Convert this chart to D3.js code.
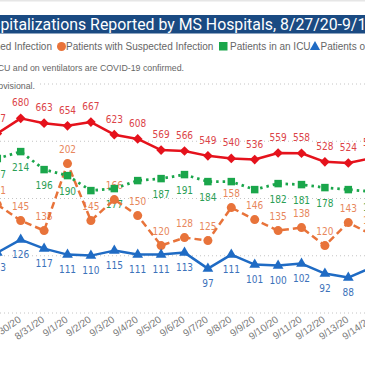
<!DOCTYPE html>
<html>
<head>
<meta charset="utf-8">
<script src="https://cdn.jsdelivr.net/npm/d3@7"></script>
<style>
  body { margin: 0; background: #fff; overflow: hidden; }
  svg { display: block; }
</style>
</head>
<body>
<div id="chart"></div>
<script>
// data (visible window: 8/29 .. 9/14)
var dates = ["8/29/20", "8/30/20", "8/31/20", "9/1/20", "9/2/20", "9/3/20", "9/4/20", "9/5/20", "9/6/20",
    "9/7/20", "9/8/20", "9/9/20", "9/10/20", "9/11/20", "9/12/20", "9/13/20", "9/14/20"];
var confirmed = [627, 680, 663, 654, 667, 623, 608, 569, 566, 549, 540, 536, 559, 558, 528, 524, 541];
var suspected = [161, 145, 135, 202, 145, 166, 150, 120, 128, 125, 158, 146, 135, 138, 120, 143, 131];
var icu = [207, 214, 196, 190, 175, 177, 185, 187, 191, 184, 184, 176, 182, 181, 178, 176, 174];
var vent = [113, 126, 117, 111, 110, 115, 111, 111, 113, 97, 111, 101, 100, 102, 92, 88, 98];
var gridTicks = [0, 200, 400, 600, 800];

var titleText = "COVID-19 Hospitalizations Reported by MS Hospitals, 8/27/20-9/14/20";
var legendNames = ["Patients with Confirmed Infection", "Patients with Suspected Infection",
    "Patients in an ICU", "Patients on Ventilators"];
var noteLines = ["Note: Patients in an ICU and on ventilators are COVID-19 confirmed.",
    "Data for the most recent days are provisional."];

var width = 365;
var height = 365;

var svg = d3.select("#chart").append("svg")
    .attr("width", width)
    .attr("height", height);

// x positions follow the cropped view
var x = d3.scalePoint()
    .domain(dates)
    .range([-2.7, 371.7]);

// confirmed series sits on its own axis, the other three share a second one
var y = d3.scaleLinear()
    .domain([0, 800])
    .range([313, 84]);
var y2 = d3.scaleLinear()
    .domain([50, 280])
    .range([315.6, 85.6]);

var labelFont = "'Liberation Sans Narrow', 'DejaVu Sans Condensed', 'Liberation Sans', sans-serif";
var textFont = "'Liberation Sans', Arial, sans-serif";
var titleFont = "Roboto, 'Liberation Sans', sans-serif";

// top border + title band
svg.append("rect").attr("x", 0).attr("y", 0).attr("width", width).attr("height", 1.5).attr("fill", "#e6e6e6");
svg.append("rect").attr("x", 0).attr("y", 15).attr("width", width).attr("height", 18.5).attr("fill", "#1a4a82");

// measure a string at 14px with a throwaway text node
function measure(str) {
    var t = svg.append("text")
        .style("font-family", titleFont)
        .style("font-size", "14px")
        .text(str);
    var w = t.node().getComputedTextLength();
    t.remove();
    return w;
}
var visStart = titleText.indexOf("pitalizations");
var visEnd = titleText.lastIndexOf("9/1") + 3;
var visW = measure(titleText.slice(visStart, visEnd));
var preW = measure(titleText.slice(0, visStart));
var fs = 14 * 366 / visW;

svg.append("text")
    .attr("x", -preW * fs / 14 + 0.5)
    .attr("y", 29.5)
    .attr("fill", "#fff")
    .style("font-family", titleFont)
    .style("font-size", fs + "px")
    .text(titleText);

// gridlines
svg.append("g").selectAll("line")
    .data(gridTicks)
    .enter().append("line")
    .attr("x1", 0).attr("x2", width)
    .attr("y1", d => y(d)).attr("y2", d => y(d))
    .attr("stroke", "#c4c4c4")
    .attr("stroke-width", 1)
    .attr("stroke-dasharray", "1,3");

// legend row
var legendY = 50;
var lg = svg.append("g")
    .style("font-family", textFont)
    .style("font-size", "10px")
    .attr("fill", "#666");
lg.append("text").attr("x", 52).attr("y", legendY).attr("text-anchor", "end").text(legendNames[0]);
lg.append("circle").attr("cx", 61.5).attr("cy", legendY - 3.5).attr("r", 4.5).attr("fill", "#e8733a");
lg.append("text").attr("x", 66).attr("y", legendY).text(legendNames[1]);
lg.append("rect").attr("x", 219).attr("y", legendY - 8).attr("width", 8.5).attr("height", 8.5).attr("fill", "#1aa64b");
lg.append("text").attr("x", 230).attr("y", legendY).text(legendNames[2]);
lg.append("path").attr("d", d3.symbol(d3.symbolTriangle, 45)())
    .attr("transform", "translate(315," + (legendY - 3) + ")").attr("fill", "#1f6bc4");
lg.append("text").attr("x", 320.5).attr("y", legendY).text(legendNames[3]);

// notes
var notes = svg.append("g")
    .style("font-family", textFont)
    .style("font-size", "8.8px")
    .attr("fill", "#666");
notes.append("text").attr("x", 184).attr("y", 70.5).attr("text-anchor", "end").text(noteLines[0]);
notes.append("rect").attr("x", -5).attr("y", 78).attr("width", 42).attr("height", 12).attr("fill", "#fff");
notes.append("text").attr("x", 35).attr("y", 88.5).attr("text-anchor", "end").text(noteLines[1]);

// x axis labels
svg.append("g").selectAll("text")
    .data(dates)
    .enter().append("text")
    .attr("transform", d => "translate(" + (x(d) + 1) + ",321) rotate(-35)")
    .attr("text-anchor", "end")
    .attr("fill", "#777")
    .style("font-family", textFont)
    .style("font-size", "10px")
    .text(d => d);

var series = [
    { values: confirmed, scale: y, color: "#e5121c", text: "#dc4347", dash: null, width: 2.5, symbol: d3.symbolDiamond2, size: 60, above: true, off: 12 },
    { values: suspected, scale: y2, color: "#e8733a", text: "#e8875c", dash: "7,4", width: 2.5, symbol: d3.symbolCircle, size: 64, above: true, off: 10.5 },
    { values: icu, scale: y2, color: "#1aa64b", text: "#2b9e55", dash: "2.5,4", width: 2.8, symbol: d3.symbolSquare, size: 56, above: false, off: 19.5 },
    { values: vent, scale: y2, color: "#1f6bc4", text: "#3c72ba", dash: null, width: 2.5, symbol: d3.symbolTriangle, size: 50, above: false, off: 18.5 }
];

// data labels first (drawn under the lines), skipping ones that collide
var labelLayer = svg.append("g")
    .style("font-family", labelFont)
    .style("font-size", "10px")
    .attr("text-anchor", "middle");
var placed = [];
var order = [0, 1, 3, 2];
order.forEach(function (si) {
    var s = series[si];
    s.values.forEach(function (v, i) {
        var px = x(dates[i]);
        var py = s.scale(v);
        var base = s.above ? py - s.off : py + s.off;
        var box = { x0: px - 7, x1: px + 7, y0: base - 7, y1: base };
        var hit = placed.some(b => b.x0 < box.x1 && box.x0 < b.x1 && b.y0 < box.y1 && box.y0 < b.y1);
        if (hit) return;
        placed.push(box);
        labelLayer.append("text")
            .attr("x", px)
            .attr("y", base)
            .attr("fill", s.text)
            .text(v);
    });
});

// lines + markers
series.forEach(function (s) {
    var line = d3.line()
        .x((d, i) => x(dates[i]))
        .y(d => s.scale(d));
    svg.append("path")
        .datum(s.values)
        .attr("d", line)
        .attr("fill", "none")
        .attr("stroke", s.color)
        .attr("stroke-width", s.width)
        .attr("stroke-dasharray", s.dash)
        .attr("stroke-linejoin", "round");
    svg.append("g").selectAll("path")
        .data(s.values)
        .enter().append("path")
        .attr("d", d3.symbol(s.symbol, s.size)())
        .attr("transform", (d, i) => "translate(" + x(dates[i]) + "," + s.scale(d) + ")")
        .attr("fill", s.color);
});
</script>
</body>
</html>
